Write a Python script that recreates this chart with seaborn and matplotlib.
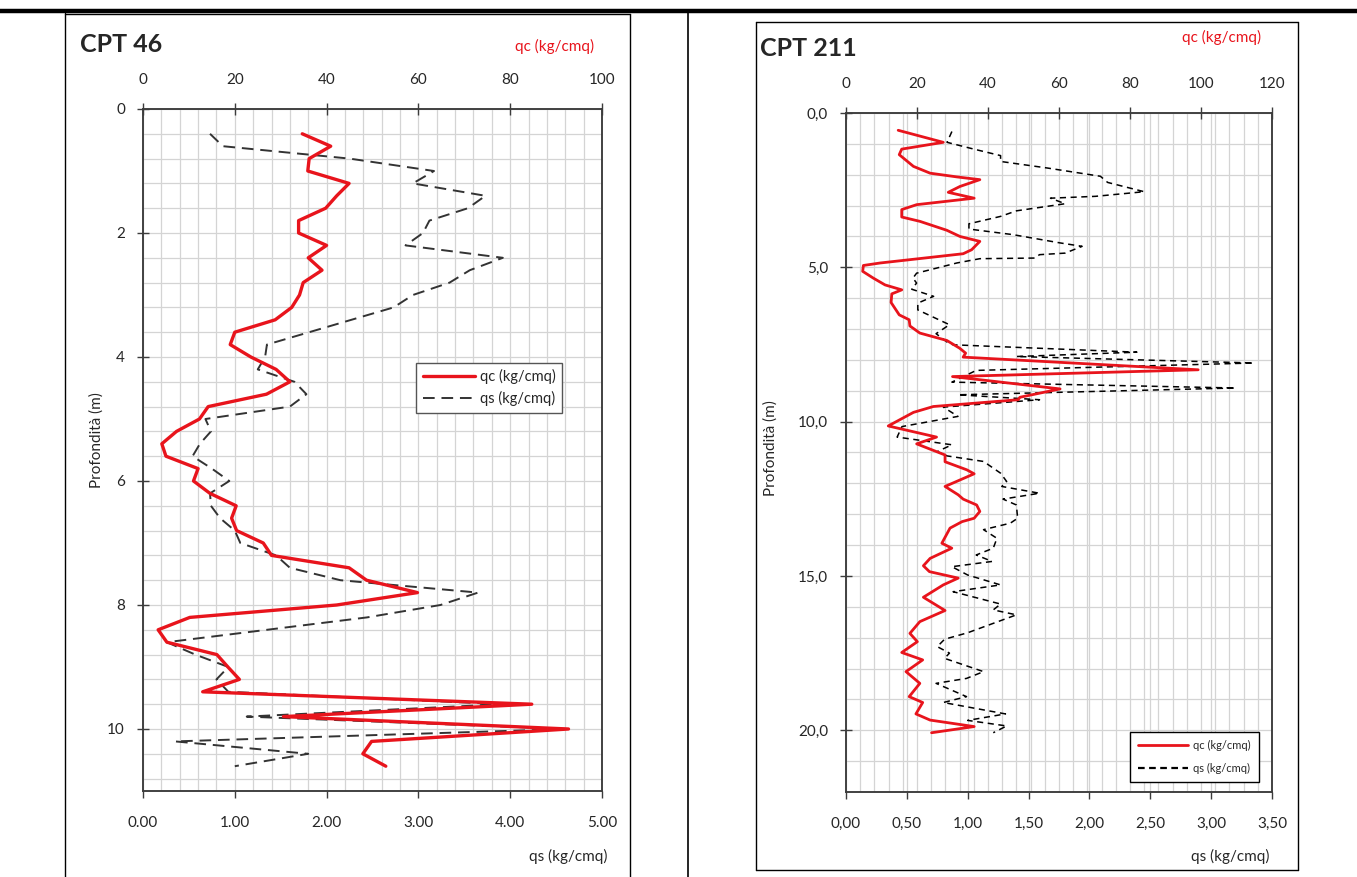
import numpy as np
import pandas as pd
import matplotlib
matplotlib.use("Agg")
import matplotlib.pyplot as plt
from matplotlib.lines import Line2D
from matplotlib.ticker import FixedLocator, FuncFormatter
import seaborn as sns

sns.set_style("white")
plt.rcParams["font.family"] = ["Lato", "DejaVu Sans"]

# ---------------- CPT 46 ----------------
depth_46 = [0.4, 0.6, 0.8, 1.0, 1.2, 1.4, 1.6, 1.8, 2.0, 2.2, 2.4, 2.6, 2.8, 3.0, 3.2,
            3.4, 3.6, 3.8, 4.0, 4.2, 4.4, 4.6, 4.8, 5.0, 5.2, 5.4, 5.6, 5.8, 6.0, 6.2,
            6.4, 6.6, 6.8, 7.0, 7.2, 7.4, 7.6, 7.8, 8.0, 8.2, 8.4, 8.6, 8.8, 9.0, 9.2,
            9.4, 9.6, 9.8, 10.0, 10.2, 10.4, 10.6]
qc_46 = [34.7, 40.9, 36.2, 35.9, 44.9, 42.2, 39.8, 33.9, 33.9, 40.0, 36.0, 39.0, 34.9, 34.1, 32.4,
         28.8, 20.0, 19.0, 23.5, 29.0, 32.0, 26.9, 14.2, 12.3, 7.3, 4.1, 5.0, 12.0, 11.0, 14.6,
         20.3, 19.3, 20.4, 26.2, 28.0, 44.9, 48.7, 59.8, 42.2, 10.2, 3.3, 5.2, 16.1, 18.5, 21.0,
         13.0, 84.7, 30.6, 92.7, 49.8, 47.9, 52.9]
qs_46 = [0.73, 0.87, 2.25, 3.17, 2.94, 3.73, 3.54, 3.12, 3.05, 2.86, 3.92, 3.56, 3.34, 2.94, 2.73,
         2.27, 1.81, 1.35, 1.33, 1.25, 1.65, 1.78, 1.60, 0.68, 0.74, 0.62, 0.54, 0.75, 0.94, 0.73,
         0.74, 0.84, 1.00, 1.06, 1.45, 1.60, 2.15, 3.65, 3.24, 2.44, 1.35, 0.26, 0.57, 0.93, 0.80,
         0.93, 3.92, 1.13, 4.63, 0.35, 1.80, 1.00]

# ---------------- CPT 211 ----------------
depth_qc_211 = [0.56, 0.95, 1.17, 1.35, 1.73, 1.95, 2.07, 2.16, 2.38, 2.57, 2.76, 2.97, 3.13, 3.37,
                3.51, 3.80, 4.00, 4.16, 4.43, 4.56, 4.86, 4.94, 5.13, 5.35, 5.57, 5.73, 5.86, 6.14,
                6.54, 6.70, 6.90, 7.13, 7.37, 7.62, 7.78, 7.91, 8.32, 8.54, 8.94, 9.21, 9.29, 9.51,
                9.70, 10.14, 10.50, 10.72, 11.08, 11.30, 11.56, 11.69, 12.10, 12.37, 12.51, 12.70,
                12.91, 13.13, 13.24, 13.45, 13.94, 14.10, 14.43, 14.67, 14.86, 15.07, 15.29, 15.69,
                16.12, 16.48, 16.86, 17.13, 17.48, 17.72, 18.10, 18.48, 18.91, 19.10, 19.47, 19.67,
                19.88, 20.08]
qc_211 = [14.7, 27.4, 15.7, 15.0, 19.0, 23.7, 31.2, 37.7, 32.1, 28.8, 36.1, 19.9, 15.7, 15.7,
          20.8, 28.4, 32.1, 37.7, 35.4, 33.0, 9.6, 4.9, 4.7, 7.7, 11.0, 15.7, 12.9, 12.7,
          15.0, 17.8, 18.0, 20.8, 28.4, 32.0, 33.7, 33.0, 99.2, 30.0, 60.3, 49.0, 48.5, 24.6,
          19.0, 11.9, 25.5, 19.9, 27.9, 27.9, 34.0, 36.1, 27.9, 31.6, 33.0, 36.8,
          37.7, 36.1, 32.7, 29.3, 27.0, 29.8, 23.7, 21.8, 23.5, 31.6, 27.4, 21.8,
          27.9, 20.8, 18.0, 20.1, 15.7, 21.6, 16.9, 20.8, 17.8, 21.6, 19.7, 23.7,
          36.1, 24.1]
depth_qs_211 = [0.60, 0.95, 1.17, 1.38, 1.57, 1.78, 2.05, 2.25, 2.55, 2.70, 2.76, 2.94, 3.17, 3.35,
                3.59, 3.76, 3.94, 4.21, 4.32, 4.54, 4.59, 4.70, 4.72, 4.86, 5.19, 5.35, 5.51, 5.71,
                5.94, 6.16, 6.38, 6.86, 7.15, 7.45, 7.51, 7.75, 7.89, 8.10, 8.34, 8.72, 8.91, 9.13,
                9.29, 9.53, 9.83, 10.16, 10.50, 10.75, 10.97, 11.11, 11.29, 11.67, 11.94, 12.10,
                12.32, 12.51, 12.70, 13.13, 13.29, 13.50, 13.78, 14.10, 14.32, 14.53, 14.70, 14.97,
                15.29, 15.51, 15.91, 16.10, 16.26, 16.84, 17.05, 17.29, 17.50, 17.67, 18.10, 18.32,
                18.48, 18.91, 19.10, 19.47, 19.68, 19.86, 20.08]
qs_211 = [0.87, 0.83, 1.05, 1.27, 1.27, 1.65, 2.09, 2.15, 2.45, 2.05, 1.68, 1.80, 1.40, 1.27,
          1.01, 1.01, 1.37, 1.76, 1.94, 1.80, 1.59, 1.55, 1.10, 0.91, 0.58, 0.55, 0.58, 0.54,
          0.72, 0.59, 0.59, 0.85, 0.74, 0.84, 0.88, 2.39, 1.40, 3.35, 1.07, 0.87, 3.20, 0.92,
          1.59, 0.80, 0.92, 0.46, 0.42, 0.87, 0.75, 0.83, 1.13, 1.27, 1.32, 1.28,
          1.59, 1.29, 1.40, 1.41, 1.35, 1.13, 1.24, 1.21, 1.07, 1.20, 0.87, 1.00,
          1.27, 0.88, 1.27, 1.21, 1.40, 1.00, 0.81, 0.75, 0.85, 0.81, 1.13, 0.99,
          0.74, 0.99, 0.80, 1.31, 1.00, 1.32, 1.21]

W, H = 1357, 877
fig = plt.figure(figsize=(W / 100, H / 100), dpi=100)
fig.patch.set_facecolor("white")

RED = "#e8141c"
SPINE = "#3c3c3c"
GRID = "#d4d4d4"


def px_axes(x0, y0, x1, y1):
    return fig.add_axes([x0 / W, 1 - y1 / H, (x1 - x0) / W, (y1 - y0) / H])


def fig_text(x, y, s, **kw):
    fig.text(x / W, 1 - y / H, s, **kw)


def comma(fmt):
    return FuncFormatter(lambda v, p: format(v, fmt).replace(".", ","))


def setup(ax, axt, qs_max, qc_max, dmax, qs_step, qc_step, d_step, grid_x, grid_y, fmt_x, fmt_y, comma_sep):
    ax.set_xlim(0, qs_max)
    ax.set_ylim(dmax, 0)
    axt.set_xlim(0, qc_max)
    ax.set_xticks(np.arange(0, qs_max + 1e-9, qs_step))
    ax.set_yticks(np.arange(0, dmax - 1e-9, d_step))
    axt.set_xticks(np.arange(0, qc_max + 1e-9, qc_step))
    ax.xaxis.set_minor_locator(FixedLocator(np.arange(0, qs_max + 1e-9, grid_x)))
    ax.yaxis.set_minor_locator(FixedLocator(np.arange(0, dmax + 1e-9, grid_y)))
    ax.grid(which="both", color=GRID, lw=0.9, zorder=0)
    ax.set_axisbelow(True)
    if comma_sep:
        ax.xaxis.set_major_formatter(comma(fmt_x))
        ax.yaxis.set_major_formatter(comma(fmt_y))
    else:
        ax.xaxis.set_major_formatter(FuncFormatter(lambda v, p: format(v, fmt_x)))
        ax.yaxis.set_major_formatter(FuncFormatter(lambda v, p: format(v, fmt_y)))
    for a in (ax, axt):
        for s in a.spines.values():
            s.set_color(SPINE)
            s.set_linewidth(1.1)
    ax.tick_params(axis="x", which="major", direction="out", length=5, width=1, color=SPINE,
                   labelsize=11, pad=13, bottom=True)
    ax.tick_params(axis="y", which="major", direction="inout", length=8, width=1, color=SPINE,
                   labelsize=11, pad=9, left=True)
    ax.tick_params(which="minor", length=0)
    axt.tick_params(axis="x", which="major", direction="inout", length=8, width=1, color=SPINE,
                    labelsize=11, pad=12, top=True)
    ax.set_xlabel("")
    ax.set_ylabel("")
    axt.set_xlabel("")
    axt.set_ylabel("")


# ---------- left panel ----------
ax1 = px_axes(143, 109, 602, 791)
ax1t = ax1.twiny()
df_46 = pd.DataFrame({"depth": depth_46, "qc": qc_46, "qs": qs_46})
sns.lineplot(data=df_46, x="qs", y="depth", ax=ax1, sort=False, estimator=None,
             color="#333333", lw=1.4, linestyle=(0, (6, 3.5)))
sns.lineplot(data=df_46, x="qc", y="depth", ax=ax1t, sort=False, estimator=None,
             color=RED, lw=2.4)
setup(ax1, ax1t, 5, 100, 11, 1, 20, 2, 0.2, 0.4, ".2f", ".0f", False)
h1 = [Line2D([], [], color=RED, lw=2.4), Line2D([], [], color="#333333", lw=1.4, linestyle=(0, (6, 3.5)))]
leg1 = ax1t.legend(h1, ["qc (kg/cmq)", "qs (kg/cmq)"], loc="upper left", bbox_to_anchor=(0.595, 0.628),
                   borderaxespad=0, fancybox=False, framealpha=1, edgecolor="#555555", fontsize=10.5,
                   handlelength=3.6, handletextpad=0.3, borderpad=0.45, labelspacing=0.45)
leg1.get_frame().set_linewidth(1.0)

# ---------- right panel ----------
ax2 = px_axes(846, 113, 1272, 792)
ax2t = ax2.twiny()
df_qc = pd.DataFrame({"depth": depth_qc_211, "qc": qc_211})
df_qs = pd.DataFrame({"depth": depth_qs_211, "qs": qs_211})
sns.lineplot(data=df_qs, x="qs", y="depth", ax=ax2, sort=False, estimator=None,
             color="black", lw=1.1, linestyle=(0, (4, 3)))
sns.lineplot(data=df_qc, x="qc", y="depth", ax=ax2t, sort=False, estimator=None,
             color=RED, lw=2.0)
setup(ax2, ax2t, 3.5, 120, 22, 0.5, 20, 5, 3.5 / 30, 1.0, ".2f", ".1f", True)
h2 = [Line2D([], [], color=RED, lw=2.0), Line2D([], [], color="black", lw=1.6, linestyle=(0, (3, 2)))]
leg2 = ax2t.legend(h2, ["qc (kg/cmq)", "qs (kg/cmq)"], loc="upper left", bbox_to_anchor=(0.667, 0.088),
                   borderaxespad=0, fancybox=False, framealpha=1, edgecolor="black", fontsize=8,
                   handlelength=4.5, handletextpad=0.5, borderpad=0.7, labelspacing=1.1)
leg2.get_frame().set_linewidth(1.0)

# ---------- titles & labels ----------
fig_text(80, 45, "CPT 46", fontsize=18, fontweight="bold", ha="left", va="center")
fig_text(760, 48, "CPT 211", fontsize=18, fontweight="bold", ha="left", va="center")
fig_text(555, 46, "qc (kg/cmq)", fontsize=11, color=RED, ha="center", va="center")
fig_text(1222, 37, "qc (kg/cmq)", fontsize=11, color=RED, ha="center", va="center")
fig_text(568, 856, "qs (kg/cmq)", fontsize=11, ha="center", va="center")
fig_text(1230, 856, "qs (kg/cmq)", fontsize=11, ha="center", va="center")
fig_text(97, 440, "Profondità (m)", fontsize=11, rotation=90, ha="center", va="center")
fig_text(771, 448, "Profondità (m)", fontsize=11, rotation=90, ha="center", va="center")

# ---------- page borders ----------
def fline(x0, y0, x1, y1, lw, color="black"):
    fig.add_artist(Line2D([x0 / W, x1 / W], [1 - y0 / H, 1 - y1 / H], color=color, lw=lw,
                          transform=fig.transFigure))

fline(0, 11, W, 11, 3.2)
fline(65, 13, 65, H, 1.0)
fline(65, 14, 630, 14, 1.0)
fline(630, 14, 630, H, 1.0)
fline(688, 11, 688, H, 1.2)
fline(756, 22, 1298, 22, 1.0)
fline(756, 22, 756, 870, 1.0)
fline(1298, 22, 1298, 870, 1.0)
fline(756, 870, 1298, 870, 1.0)

fig.savefig("out.png", dpi=100, facecolor="white")
